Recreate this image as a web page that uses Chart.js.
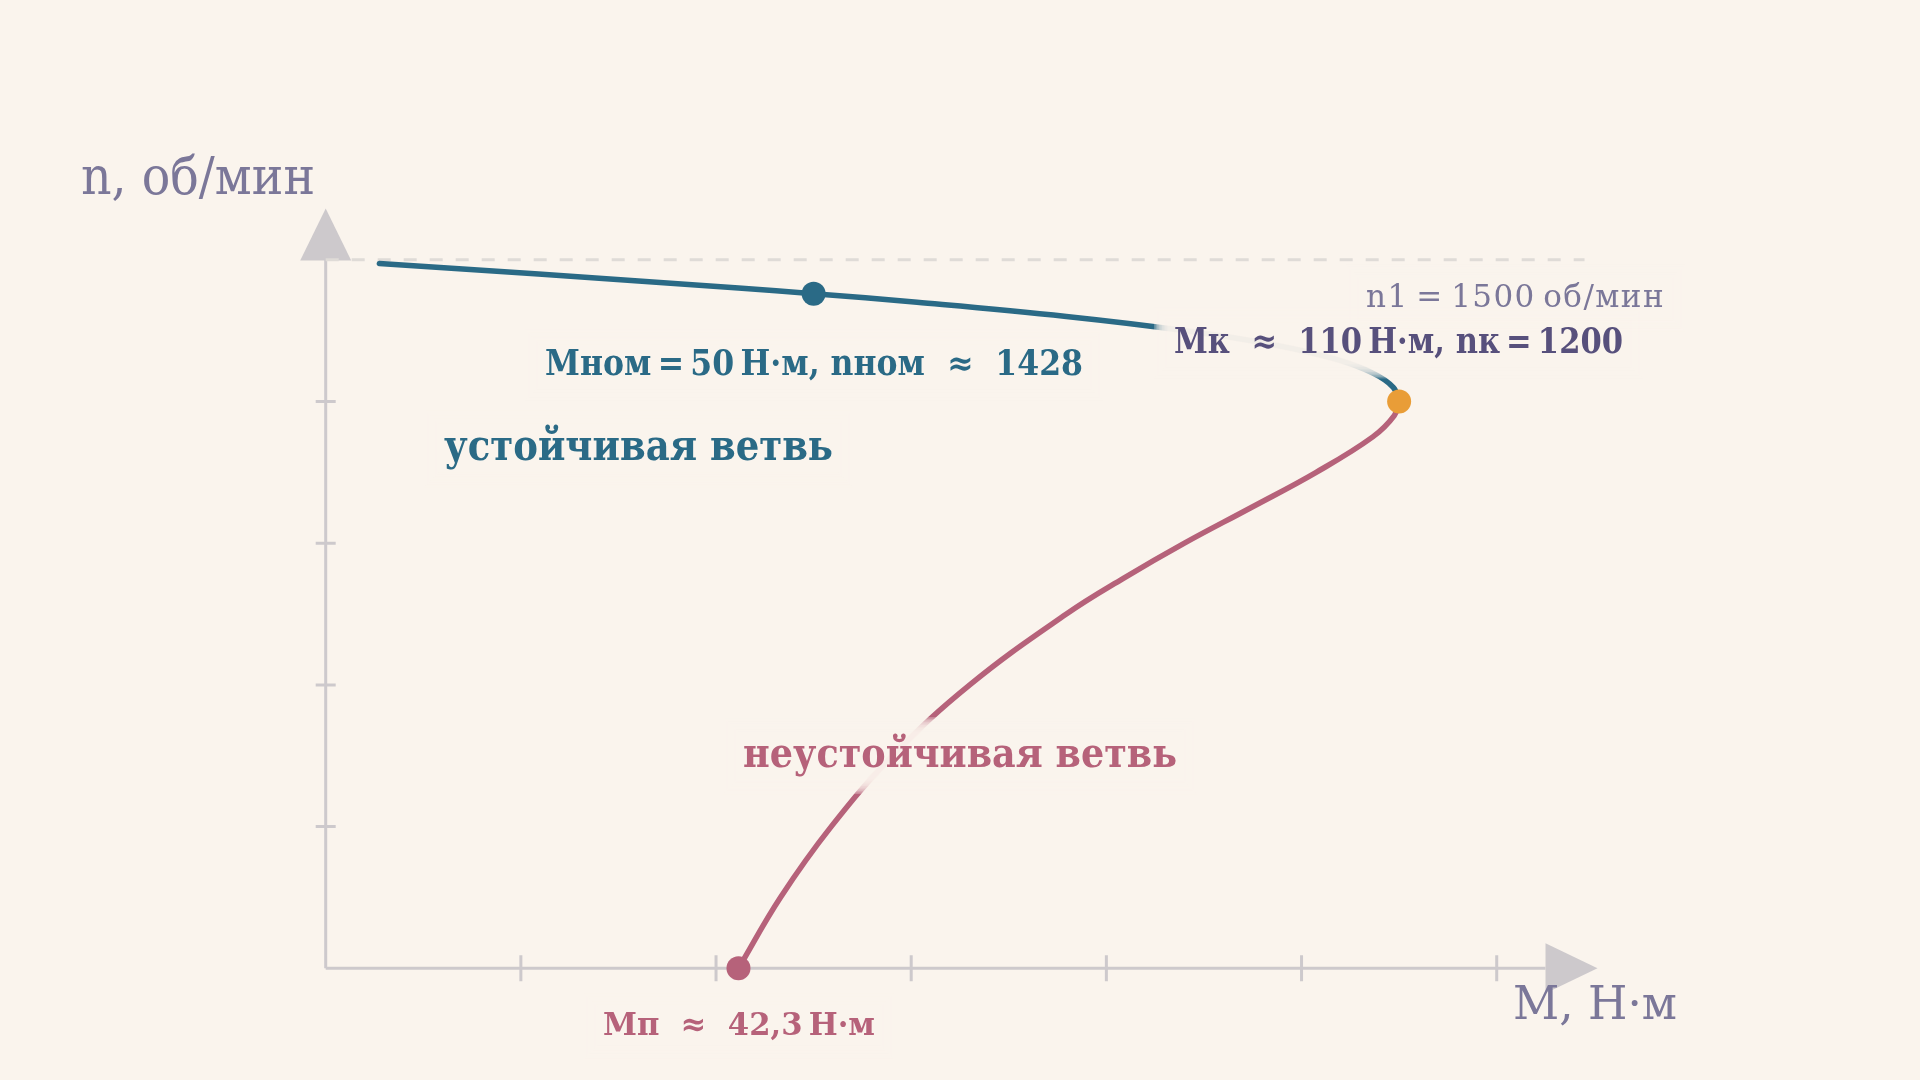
<!DOCTYPE html>
<html>
<head>
<meta charset="utf-8">
<script src="https://cdn.jsdelivr.net/npm/chart.js@4"></script>
<style>
  html, body { margin: 0; padding: 0; background: #faf4ed; }
  #wrap { width: 1920px; height: 1080px; }
</style>
</head>
<body>
<div id="wrap"><canvas id="chartMeh" width="1920" height="1080"></canvas></div>
<script>
// устойчивая ветвь (M, Н·м / n, об/мин)
const stableM = [5.5, 21.8, 42.3, 50.0, 60.6, 75.9, 88.0, 97.1, 103.4, 107.3, 109.4, 110.0];
const stableN = [1492, 1470, 1440, 1428, 1410, 1380, 1350, 1320, 1290, 1260, 1230, 1200];
// неустойчивая ветвь
const unstableM = [110.0, 109.5, 107.3, 101.5, 94.8, 88.0, 81.7, 75.9, 66.0, 58.1, 51.8, 46.6, 42.3];
const unstableN = [1200, 1170, 1125, 1050, 975, 900, 825, 750, 600, 450, 300, 150, 0];
// характерные точки
const nomPoint = [50, 1428];
const critPoint = [110, 1200];
const startPoint = [42.3, 0];
const syncN = 1500;
const syncM = [0, 129];
const xTicks = [20, 40, 60, 80, 100, 120];
const yTicks = [300, 600, 900, 1200];

const BG = '#faf4ed';
const AXIS = '#cdc9cc';
const TEAL = '#2a6a86';
const ROSE = '#b6627a';
const ORANGE = '#e99d37';
const MUTED = '#7b7799';
const DARK = '#57507c';

function pairs(xs, ys) {
    return xs.map(function (x, i) { return { x: x, y: ys[i] }; });
}

function fitText(ctx, str, x, base, width, font, color) {
    ctx.save();
    ctx.font = font;
    ctx.fillStyle = color;
    ctx.textAlign = 'left';
    ctx.textBaseline = 'alphabetic';
    const w = ctx.measureText(str).width;
    if (w >= width) {
        ctx.translate(x, base);
        ctx.scale(width / w, 1);
        ctx.fillText(str, 0, 0);
    } else {
        ctx.letterSpacing = ((width - w) / str.length) + 'px';
        ctx.fillText(str, x, base);
    }
    ctx.restore();
}

// мягкая подложка под подписью: слои одного цвета с фоном
function halo(ctx, x, y, w, h) {
    const steps = 10, soft = 16;
    ctx.save();
    ctx.fillStyle = BG;
    ctx.globalAlpha = 0.28;
    for (let i = 0; i < steps; i++) {
        const d = soft * (1 - i / steps) - soft / 2;
        ctx.fillRect(x - d, y - d, w + 2 * d, h + 2 * d);
    }
    ctx.restore();
}

const labels = [
    { t: 'n1\u2009=\u20091500\u2009об/мин', x: 1366, b: 307, w: 299, size: 31, weight: 'normal', c: MUTED },
    { t: 'Мном\u2009=\u200950\u2009Н·м, nном  ≈  1428', x: 545, b: 375, w: 538, size: 35, weight: 'bold', c: TEAL },
    { t: 'устойчивая ветвь', x: 444, b: 460, w: 389, size: 42, weight: 'bold', c: TEAL },
    { t: 'Мк  ≈  110\u2009Н·м, nк\u2009=\u20091200', x: 1174, b: 353, w: 449, size: 35, weight: 'bold', c: DARK },
    { t: 'неустойчивая ветвь', x: 743, b: 767, w: 434, size: 41, weight: 'bold', c: ROSE },
    { t: 'Мп  ≈  42,3\u2009Н·м', x: 603, b: 1035, w: 272, size: 32, weight: 'bold', c: ROSE }
];

const axesPlugin = {
    id: 'axesPlugin',
    beforeDraw: function (chart) {
        const ctx = chart.ctx;
        ctx.save();
        ctx.fillStyle = BG;
        ctx.fillRect(0, 0, chart.width, chart.height);
        ctx.restore();
    },
    beforeDatasetsDraw: function (chart) {
        const ctx = chart.ctx;
        const xs = chart.scales.x;
        const ys = chart.scales.y;
        const x0 = xs.getPixelForValue(0);
        const y0 = ys.getPixelForValue(0);
        const yTop = ys.getPixelForValue(1600);
        const xEnd = xs.getPixelForValue(125);
        ctx.save();
        ctx.strokeStyle = AXIS;
        ctx.fillStyle = AXIS;
        ctx.lineWidth = 3;
        ctx.beginPath();
        ctx.moveTo(x0, y0);
        ctx.lineTo(x0, yTop + 40);
        ctx.moveTo(x0, y0);
        ctx.lineTo(xEnd, y0);
        xTicks.forEach(function (v) {
            const px = xs.getPixelForValue(v);
            ctx.moveTo(px, y0 - 13);
            ctx.lineTo(px, y0 + 13);
        });
        yTicks.forEach(function (v) {
            const py = ys.getPixelForValue(v);
            ctx.moveTo(x0 - 10, py);
            ctx.lineTo(x0 + 10, py);
        });
        ctx.stroke();
        // стрелки
        ctx.beginPath();
        ctx.moveTo(x0, yTop - 4);
        ctx.lineTo(x0 - 25.5, yTop + 48);
        ctx.lineTo(x0 + 25.5, yTop + 48);
        ctx.closePath();
        ctx.fill();
        ctx.beginPath();
        ctx.moveTo(xEnd + 52, y0);
        ctx.lineTo(xEnd, y0 - 25);
        ctx.lineTo(xEnd, y0 + 25);
        ctx.closePath();
        ctx.fill();
        ctx.restore();
    },
    // наборы рисуются с конца: после обеих ветвей (index 1), до точек (index 0)
    afterDatasetDraw: function (chart, args) {
        if (args.index !== 1) return;
        const ctx = chart.ctx;
        labels.forEach(function (l) {
            halo(ctx, l.x - 12, l.b - l.size * 0.78 - 10, l.w + 24, l.size * 1.05 + 18);
        });
    },
    afterDatasetsDraw: function (chart) {
        const ctx = chart.ctx;
        labels.forEach(function (l) {
            fitText(ctx, l.t, l.x, l.b, l.w, l.weight + ' ' + l.size + 'px "DejaVu Serif"', l.c);
        });
        fitText(ctx, 'n, об/мин', 81, 194, 234, '52px "DejaVu Serif"', MUTED);
        fitText(ctx, 'М, Н·м', 1513, 1019, 164, '46px "DejaVu Serif"', MUTED);
    }
};

window.onload = function () {
    const ctx = document.getElementById('chartMeh').getContext('2d');
    new Chart(ctx, {
        type: 'scatter',
        data: {
            datasets: [
                {
                    label: 'точки',
                    data: pairs([nomPoint[0], critPoint[0], startPoint[0]], [nomPoint[1], critPoint[1], startPoint[1]]),
                    backgroundColor: [TEAL, ORANGE, ROSE],
                    borderWidth: 0,
                    pointRadius: 12,
                    pointHoverRadius: 12,
                    clip: false
                },
                {
                    label: 'устойчивая ветвь',
                    data: pairs(stableM, stableN),
                    showLine: true,
                    borderColor: TEAL,
                    borderWidth: 5.5,
                    tension: 0.4,
                    borderCapStyle: 'round',
                    pointRadius: 0,
                    clip: false
                },
                {
                    label: 'неустойчивая ветвь',
                    data: pairs(unstableM, unstableN),
                    showLine: true,
                    borderColor: ROSE,
                    borderWidth: 5.5,
                    tension: 0.4,
                    borderCapStyle: 'round',
                    pointRadius: 0,
                    clip: false
                },
                {
                    label: 'n1',
                    data: pairs(syncM, [syncN, syncN]),
                    showLine: true,
                    borderColor: '#dfdbd7',
                    borderWidth: 3,
                    borderDash: [13, 13],
                    pointRadius: 0,
                    clip: false
                }
            ]
        },
        options: {
            responsive: false,
            devicePixelRatio: 1,
            animation: false,
            events: [],
            layout: { padding: { left: 325.7, right: 325.7, top: 212.5, bottom: 111.7 } },
            scales: {
                x: { type: 'linear', min: 0, max: 130, display: false },
                y: { type: 'linear', min: 0, max: 1600, display: false }
            },
            plugins: {
                legend: { display: false },
                tooltip: { enabled: false }
            }
        },
        plugins: [axesPlugin]
    });
};
</script>
</body>
</html>
